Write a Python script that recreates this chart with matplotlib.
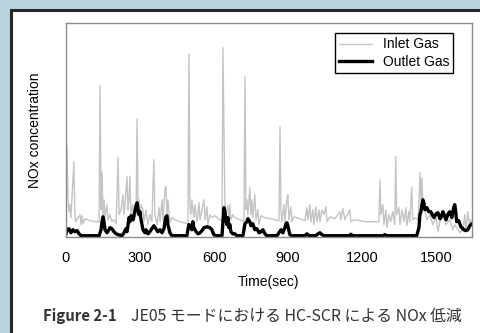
import matplotlib
matplotlib.use("Agg")
import matplotlib.pyplot as plt
from matplotlib.patches import Rectangle

plt.rcParams['font.family'] = ['Noto Sans CJK JP', 'DejaVu Sans']

# Inlet gas (time [s], concentration [arb. units, top of axis = 1000])
inlet_t = [0, 4, 8, 12, 16, 20, 32, 36, 40, 49, 57, 61, 65, 69, 77, 97, 117, 134,
           138, 142, 146, 150, 154, 158, 166, 170, 178, 186, 194, 203, 211, 215,
           223, 231, 235, 239, 247, 251, 255, 259, 263, 271, 275, 284, 288, 292,
           296, 300, 304, 312, 316, 324, 332, 340, 348, 356, 360, 369, 377, 381,
           389, 393, 401, 405, 409, 413, 421, 429, 441, 462, 482, 494, 498, 502,
           506, 510, 518, 522, 531, 539, 543, 551, 559, 563, 571, 575, 583, 591,
           603, 624, 632, 636, 640, 644, 648, 656, 660, 664, 668, 676, 684, 705,
           721, 725, 729, 733, 737, 745, 749, 753, 757, 765, 770, 778, 782, 790,
           806, 826, 846, 863, 867, 871, 875, 883, 887, 895, 899, 903, 911, 915,
           923, 948, 968, 976, 980, 988, 992, 1000, 1004, 1012, 1017, 1025, 1029,
           1037, 1045, 1053, 1057, 1069, 1089, 1110, 1114, 1122, 1130, 1150, 1154,
           1170, 1191, 1211, 1231, 1251, 1268, 1272, 1276, 1284, 1288, 1296, 1300,
           1308, 1316, 1324, 1332, 1336, 1340, 1349, 1353, 1361, 1369, 1377, 1381,
           1389, 1393, 1401, 1405, 1413, 1426, 1430, 1434, 1438, 1442, 1446, 1454,
           1462, 1474, 1486, 1499, 1507, 1515, 1527, 1539, 1555, 1567, 1575, 1596,
           1608, 1616, 1620, 1628, 1632, 1636, 1640]
inlet_v = [99, 423, 169, 113, 146, 85, 348, 99, 66, 85, 99, 52, 94, 56, 80, 71, 66, 66,
           705, 122, 300, 99, 169, 85, 146, 75, 99, 66, 75, 56, 367, 99,
           122, 193, 99, 146, 277, 122, 169, 277, 99, 146, 66, 99, 550, 122,
           169, 85, 146, 122, 66, 122, 52, 99, 66, 357, 99, 52, 132, 66,
           169, 75, 216, 230, 99, 169, 66, 85, 75, 66, 61, 56, 855, 146,
           99, 169, 85, 146, 66, 155, 75, 122, 169, 75, 136, 52, 99, 85,
           94, 75, 66, 884, 484, 122, 99, 141, 75, 146, 75, 99, 85, 75,
           66, 747, 122, 169, 99, 226, 99, 169, 85, 193, 75, 122, 52, 94,
           85, 80, 75, 71, 512, 122, 66, 146, 66, 169, 193, 75, 136, 66,
           89, 80, 71, 132, 75, 146, 66, 122, 52, 136, 66, 122, 66,
           122, 99, 136, 66, 89, 80, 113, 75, 127, 75, 122, 66,
           75, 71, 66, 66, 66, 66, 263, 99, 146, 52, 122, 38,
           99, 66, 113, 52, 371, 99, 132, 52, 122, 66, 132, 47,
           113, 66, 226, 75, 85, 75, 146, 296, 169, 273, 146, 122,
           75, 99, 52, 85, 19, 66, 99, 52, 75, 28, 52, 14,
           28, 99, 19, 113, 75, 52, 75]

# Outlet gas
outlet_t = [0, 4, 12, 20, 28, 36, 45, 53, 61, 134, 142, 146, 150, 154, 158, 166, 174,
            178, 186, 194, 203, 211, 227, 235, 243, 247, 251, 255, 259, 263, 271,
            279, 284, 288, 292, 296, 300, 304, 312, 320, 324, 332, 340, 348, 356,
            364, 372, 381, 389, 397, 401, 405, 409, 413, 421, 429, 490, 494, 498,
            506, 510, 514, 518, 527, 535, 543, 551, 559, 571, 583, 591, 599, 608,
            632, 636, 640, 644, 648, 652, 656, 660, 664, 668, 676, 684, 692, 717,
            721, 725, 733, 737, 745, 749, 757, 765, 773, 782, 790, 798, 806, 814,
            855, 863, 871, 879, 887, 891, 895, 899, 903, 907, 915, 968, 976, 984,
            1012, 1021, 1029, 1037, 1045, 1150, 1154, 1162, 1284, 1292, 1300, 1421,
            1430, 1434, 1438, 1442, 1446, 1450, 1454, 1462, 1470, 1478, 1486, 1491,
            1499, 1507, 1515, 1519, 1527, 1532, 1540, 1548, 1555, 1563, 1571, 1575,
            1579, 1583, 1591, 1600, 1608, 1612, 1620, 1628, 1636, 1645]
outlet_v = [9, 28, 33, 14, 28, 19, 24, 9, 0, 0, 28, 66, 89, 66, 28, 14, 28,
            38, 33, 19, 9, 5, 0, 14, 33, 19, 47, 85, 66, 94, 75,
            113, 141, 155, 122, 99, 113, 75, 28, 14, 28, 9, 19, 33, 47,
            33, 19, 28, 14, 33, 66, 89, 94, 52, 14, 0, 0, 28, 52,
            47, 28, 66, 38, 19, 9, 14, 24, 38, 42, 38, 28, 5, 0,
            0, 66, 132, 113, 75, 52, 85, 38, 52, 19, 9, 9, 0, 0,
            28, 56, 66, 80, 66, 47, 56, 28, 33, 14, 19, 28, 9, 0,
            0, 14, 28, 14, 38, 56, 61, 47, 24, 5, 0, 0, 9, 0,
            0, 9, 14, 5, 0, 0, 7, 0, 0, 5, 0, 0,
            38, 99, 113, 146, 169, 155, 122, 132, 113, 113, 94, 85,
            103, 108, 80, 85, 113, 99, 75, 103, 113, 85, 132, 146,
            113, 66, 71, 42, 33, 28, 24, 28, 47, 56]

x_ticks = [0, 300, 600, 900, 1200, 1500]
series_names = ['Inlet Gas', 'Outlet Gas']
caption = 'JE05 モードにおける HC-SCR による NOx 低減'

fig = plt.figure(figsize=(4.81, 3.33), dpi=100)
fig.patch.set_facecolor('#b9d3df')

# white panel with dark border on the left and top
W, H = 481.0, 333.0
fig.patches.append(Rectangle((10.5 / W, -0.2), 1.2, 1.2 - 9.5 / H,
                             transform=fig.transFigure, facecolor='white',
                             edgecolor='#262626', linewidth=2.2, zorder=0))

chart_font = ['Liberation Sans', 'DejaVu Sans']

ax = fig.add_axes([66 / W, 1 - 237 / H, 406 / W, 214 / H])
ax.set_zorder(2)
ax.set_facecolor('white')
ax.plot(inlet_t, inlet_v, color='#c4c4c4', linewidth=1.0, label=series_names[0])
ax.plot(outlet_t, outlet_v, color='black', linewidth=2.4, label=series_names[1],
        solid_joinstyle='round')

ax.set_xlim(0, 1645)
ax.set_ylim(-6, 1000)
ax.set_xticks(x_ticks)
ax.set_xticklabels([str(t) for t in x_ticks], family=chart_font, fontsize=10.5)
ax.set_yticks([])
ax.tick_params(axis='x', length=0, pad=10)
for s in ax.spines.values():
    s.set_color('#8c8c8c')
    s.set_linewidth(1.0)

ax.set_xlabel('Time(sec)', fontsize=10, family=chart_font, labelpad=7)
ax.set_ylabel('NOx concentration', fontsize=10, family=chart_font, labelpad=17)

leg = ax.legend(loc='upper left', bbox_to_anchor=(0.662, 0.952), borderaxespad=0,
                fancybox=False, framealpha=1, edgecolor='black',
                prop={'family': chart_font, 'size': 10},
                handlelength=2.4, handletextpad=0.75, borderpad=0.3,
                labelspacing=0.25)
leg.get_frame().set_linewidth(1.0)

fig.text(43 / W, 1 - 316 / H, 'Figure 2-1', fontsize=10.8, fontweight='bold',
         color='#333333', va='center', ha='left')
fig.text(131 / W, 1 - 316 / H, caption, fontsize=11.4, color='#333333',
         va='center', ha='left')

fig.savefig('out.png', dpi=100, facecolor=fig.get_facecolor())
